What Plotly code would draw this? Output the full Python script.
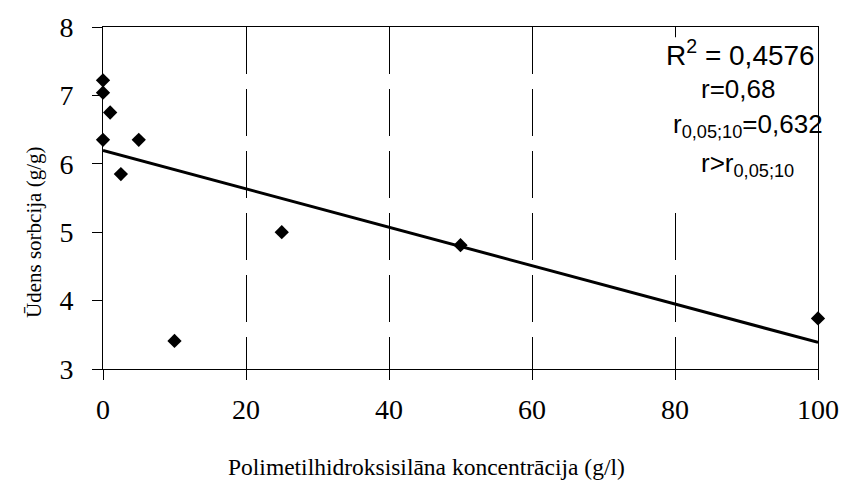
import numpy as np
import plotly.graph_objects as go

# Polymethylhydrosiloxane concentration (g/l) and water sorption (g/g)
concentration = [0, 0, 0, 1, 2.5, 5, 10, 25, 50, 100]
sorption = [7.22, 7.04, 6.35, 6.75, 5.85, 6.35, 3.41, 5.0, 4.81, 3.74]

x_ticks = [0, 20, 40, 60, 80, 100]
y_ticks = [3, 4, 5, 6, 7, 8]

stats_lines = [
    "R<sup>2</sup> = 0,4576",
    "r=0,68",
    "r<sub>0,05;10</sub>=0,632",
    "r&gt;r<sub>0,05;10</sub>",
]

# linear least-squares trend line
slope, intercept = np.polyfit(concentration, sorption, 1)
trend_x = [min(x_ticks), max(x_ticks)]
trend_y = [intercept + slope * v for v in trend_x]

fig = go.Figure()
fig.add_trace(go.Scatter(
    x=trend_x, y=trend_y, mode="lines",
    line=dict(color="black", width=3), hoverinfo="skip", showlegend=False,
))
fig.add_trace(go.Scatter(
    x=concentration, y=sorption, mode="markers",
    marker=dict(symbol="diamond", size=11, color="black"),
    showlegend=False, cliponaxis=False,
))

serif = "Liberation Serif, Times New Roman, serif"
sans = "Liberation Sans, Arial, sans-serif"

fig.update_xaxes(
    range=[0, 100], tickvals=x_ticks, ticks="outside", ticklen=10,
    tickcolor="black", showline=True, linecolor="black", linewidth=1,
    mirror=True, showgrid=True, gridcolor="black", gridwidth=1,
    griddash="47px,15px", zeroline=False, ticklabelstandoff=5,
    tickfont=dict(family=serif, size=28, color="black"),
)
fig.update_yaxes(
    range=[3, 8], tickvals=y_ticks, ticks="outside", ticklen=10,
    tickcolor="black", showline=True, linecolor="black", linewidth=1,
    mirror=True, showgrid=False, zeroline=False, ticklabelstandoff=13,
    tickfont=dict(family=serif, size=28, color="black"),
)

# white text box holding the correlation statistics
fig.add_shape(type="rect", xref="x", yref="y", x0=76.3, x1=99.4, y0=5.49, y1=7.85,
              fillcolor="white", line=dict(width=0), layer="above")

# pixel centres and sizes of the four statistics lines
line_px = [(748, 51, 28), (746, 87, 26), (756, 124, 26), (755, 163, 26)]
for txt, (px, py, fs) in zip(stats_lines, line_px):
    fig.add_annotation(text=txt, xref="paper", yref="paper",
                       x=(px - 102.7) / 724, y=(369 - py) / 344,
                       showarrow=False, xanchor="center", yanchor="middle",
                       font=dict(family=sans, size=fs, color="black"))

fig.add_annotation(text="Polimetilhidroksisilāna koncentrācija (g/l)",
                   xref="paper", yref="paper", x=(430 - 102.7) / 724, y=-(468 - 369) / 344,
                   showarrow=False, xanchor="center", yanchor="middle",
                   font=dict(family=serif, size=23.5, color="black"))
fig.add_annotation(text="Ūdens sorbcija (g/g)", textangle=-90,
                   xref="paper", yref="paper", x=-(102.7 - 33) / 724, y=(369 - 232) / 344,
                   showarrow=False, xanchor="center", yanchor="middle",
                   font=dict(family=serif, size=21, color="black"))

fig.update_layout(
    width=851, height=486,
    margin=dict(l=102.7, r=24.3, t=25, b=117),
    paper_bgcolor="white", plot_bgcolor="white",
)

fig.write_html("out.html")
